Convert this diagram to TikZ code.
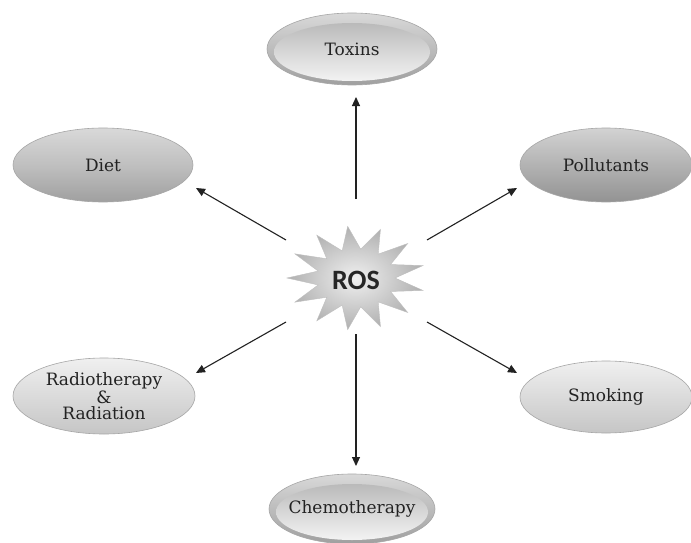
\documentclass[tikz,border=0pt]{standalone}
\usepackage{fontspec}
\setmainfont{DejaVu Serif}
\newfontfamily\rosfont{Carlito}
\usetikzlibrary{shapes.geometric,arrows.meta}
\definecolor{inkgray}{HTML}{222222}
\tikzset{
  cause/.style={ellipse, inner xsep=-16pt, inner ysep=0pt, draw=gray!70, line width=0.6pt,
    font=\fontsize{17}{18}\selectfont, text=inkgray, align=center},
  plainshade/.style={cause, top color=#1!30, bottom color=#1!75, middle color=#1!50},
  lightshade/.style={cause, top color=gray!12, bottom color=gray!45},
  buttonshade/.style 2 args={cause, top color=gray!30, bottom color=gray!75,
    path picture={\shade[top color=gray!62, bottom color=gray!6]
      ([yshift=-3pt]path picture bounding box.center) ellipse [x radius=#1, y radius=#2];}},
  link/.style={draw=inkgray, line width=1.1pt, -{Triangle[length=9pt,width=8pt]}}
}
\begin{document}
\begin{tikzpicture}[x=1pt,y=-1pt]
  \useasboundingbox (0,0) rectangle (691,543);
  \fill[white] (0,0) rectangle (691,543);

  % the ROS burst: 13 spikes on an ellipse
  \shade[inner color=gray!12, outer color=gray!62, draw=gray!50, line width=0.4pt]
    plot[samples at={0,...,25}]
      ({356+ifthenelse(mod(\x,2)==0,69,39)*cos(180+\x*180/13)},
       {278-ifthenelse(mod(\x,2)==0,52,29)*sin(180+\x*180/13)}) -- cycle;
  \node (ros) at (356,280) {\rosfont\bfseries\fontsize{28}{30}\selectfont\color{black!85}ROS};

  % causes
  \node[buttonshade={78}{29}, minimum width=170pt, minimum height=72pt] (toxins) at (352,49) {Toxins};
  \node[plainshade=gray, minimum width=180pt, minimum height=74pt] (diet) at (103,165) {Diet};
  \node[cause, top color=gray!35, middle color=gray!55, bottom color=gray!85,
        minimum width=172pt, minimum height=74pt] (pollut) at (606,165) {Pollutants};
  \node[lightshade, minimum width=182pt, minimum height=76pt,
        font=\fontsize{17}{16}\selectfont] (radio) at (104,396)
       {Radiotherapy\\\&\\Radiation};
  \node[lightshade, minimum width=172pt, minimum height=72pt] (smoke) at (606,397) {Smoking};
  \node[buttonshade={76}{28}, minimum width=166pt, minimum height=70pt] (chemo) at (352,509) {Chemotherapy};

  % arrow ends
  \coordinate (tS) at (356,199); \coordinate (tE) at (356,97);
  \coordinate (cS) at (356,334); \coordinate (cE) at (356,466);
  \coordinate (dS) at (286,240); \coordinate (dE) at (196,188);
  \coordinate (pS) at (427,240); \coordinate (pE) at (517,188);
  \coordinate (rS) at (286,322); \coordinate (rE) at (196,373);
  \coordinate (sS) at (427,322); \coordinate (sE) at (517,373);

  \draw[link] (tS) -- (tE);
  \draw[link] (cS) -- (cE);
  \draw[link] (dS) -- (dE);
  \draw[link] (pS) -- (pE);
  \draw[link] (rS) -- (rE);
  \draw[link] (sS) -- (sE);
\end{tikzpicture}
\end{document}
